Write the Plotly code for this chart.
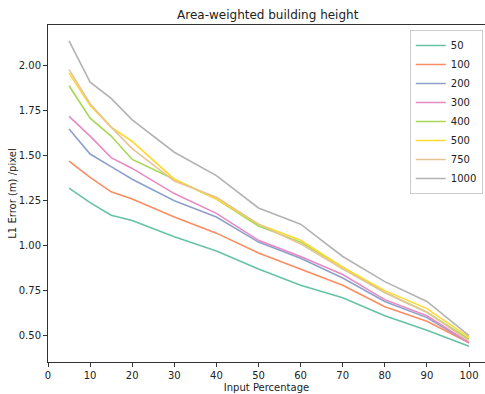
import plotly.graph_objects as go

x_pct = [5, 10, 15, 20, 30, 40, 50, 60, 70, 80, 90, 100]

s50 = [1.32, 1.24, 1.17, 1.14, 1.05, 0.97, 0.87, 0.78, 0.71, 0.61, 0.53, 0.44]
s100 = [1.47, 1.38, 1.30, 1.26, 1.16, 1.07, 0.96, 0.87, 0.78, 0.66, 0.58, 0.46]
s200 = [1.65, 1.51, 1.44, 1.37, 1.25, 1.16, 1.02, 0.93, 0.82, 0.69, 0.60, 0.46]
s300 = [1.72, 1.61, 1.49, 1.43, 1.29, 1.18, 1.03, 0.94, 0.84, 0.70, 0.61, 0.46]
s400 = [1.89, 1.71, 1.61, 1.48, 1.37, 1.26, 1.11, 1.02, 0.88, 0.74, 0.63, 0.48]
s500 = [1.96, 1.78, 1.66, 1.58, 1.37, 1.26, 1.12, 1.03, 0.88, 0.75, 0.65, 0.49]
s750 = [1.98, 1.79, 1.66, 1.54, 1.36, 1.27, 1.12, 1.01, 0.87, 0.74, 0.63, 0.47]
s1000 = [2.14, 1.91, 1.82, 1.70, 1.52, 1.39, 1.21, 1.12, 0.94, 0.80, 0.69, 0.50]

series_names = ["50", "100", "200", "300", "400", "500", "750", "1000"]
series_values = [s50, s100, s200, s300, s400, s500, s750, s1000]
colors = ["#66c2a5", "#fc8d62", "#8da0cb", "#e78ac3",
          "#a6d854", "#ffd92f", "#e5c494", "#b3b3b3"]

x_ticks = [0, 10, 20, 30, 40, 50, 60, 70, 80, 90, 100]
y_ticks = [0.50, 0.75, 1.00, 1.25, 1.50, 1.75, 2.00]
y_tick_labels = ["0.50", "0.75", "1.00", "1.25", "1.50", "1.75", "2.00"]

fig = go.Figure()
for name, vals, col in zip(series_names, series_values, colors):
    fig.add_trace(go.Scatter(x=x_pct, y=vals, mode="lines", name=name,
                             line=dict(color=col, width=1.6)))

font = "DejaVu Sans"
fig.update_layout(
    width=485, height=394,
    margin=dict(l=48, r=0, t=25, b=32),
    paper_bgcolor="white", plot_bgcolor="white",
    font=dict(family=font, size=10, color="#222222"),
    title=dict(text="Area-weighted building height", x=0.552, xanchor="center",
               y=1 - 15 / 394, yanchor="middle", yref="container",
               font=dict(family=font, size=12, color="#222222")),
    showlegend=True,
    legend=dict(x=0.995, xanchor="right", y=0.985, yanchor="top",
                bgcolor="white", bordercolor="#cccccc", borderwidth=1,
                font=dict(family=font, size=10, color="#222222"),
                tracegroupgap=0, itemwidth=30),
)
fig.update_xaxes(
    range=[0, 103.8], tickvals=x_ticks, ticks="outside", ticklen=4,
    tickcolor="#333333", showgrid=False, zeroline=False,
    showline=True, linecolor="#333333", linewidth=1, mirror=True,
    title=dict(text="Input Percentage", standoff=3,
               font=dict(family=font, size=10, color="#222222")),
)
fig.update_yaxes(
    range=[0.353, 2.228], tickvals=y_ticks, ticktext=y_tick_labels,
    ticks="outside", ticklen=4, tickcolor="#333333",
    showgrid=False, zeroline=False,
    showline=True, linecolor="#333333", linewidth=1, mirror=True,
    title=dict(text="L1 Error (m) /pixel", standoff=0,
               font=dict(family=font, size=10, color="#222222")),
)

fig.write_html("out.html")
